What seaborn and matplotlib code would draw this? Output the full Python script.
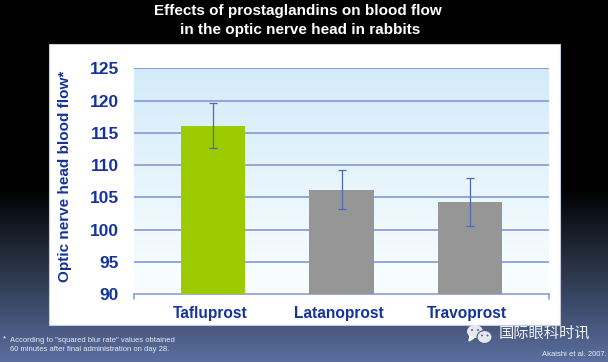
import numpy as np
import pandas as pd
import seaborn as sns
import matplotlib
matplotlib.use("Agg")
import matplotlib.pyplot as plt
from matplotlib.colors import LinearSegmentedColormap
from matplotlib.patches import Ellipse, Rectangle, Polygon
from matplotlib.transforms import ScaledTranslation

drugs = ["Tafluprost", "Latanoprost", "Travoprost"]
flow = [116.1, 106.1, 104.2]
err_low = [112.6, 103.2, 100.6]
err_high = [119.6, 109.2, 108.0]
yticks = [90, 95, 100, 105, 110, 115, 120, 125]

W, H = 608, 362
navy = "#14339b"
line = "#8ba0d8"

sns.set_theme()
sns.set_style("white")
plt.rcParams['font.family'] = ['Liberation Sans', 'Noto Sans CJK SC', 'DejaVu Sans']

fig = plt.figure(figsize=(W / 100, H / 100), dpi=100)


def px_axes(x0, y0, x1, y1, **kw):
  return fig.add_axes([x0 / W, 1 - y1 / H, (x1 - x0) / W, (y1 - y0) / H], **kw)


# Slide background, black fading to blue
bg = px_axes(0, 0, W, H)
bg_cmap = LinearSegmentedColormap.from_list(
  "slide", [(0, "#000000"), (0.52, "#000000"), (0.746, "#2b3549"), (1, "#5a6e9f")])
bg.imshow(np.linspace(0, 1, 256).reshape(-1, 1), aspect="auto", cmap=bg_cmap,
          extent=(0, W, H, 0))
bg.set_axis_off()
bg.add_patch(Rectangle((49, 44), 511, 281, facecolor="white", edgecolor="#c4cadc", lw=0.8))

# Chart
ax = px_axes(134, 68.3, 549, 294)
xlim = (-0.62, 2.62)
df = pd.DataFrame({"drug": drugs, "flow": flow})
sns.barplot(data=df, x="drug", y="flow", hue="drug", ax=ax, legend=False, width=0.5,
            palette=["#9bcb00", "#969696", "#969696"], saturation=1, linewidth=0, zorder=3)
plot_cmap = LinearSegmentedColormap.from_list("plot", ["#d3ebf9", "#fbfeff"])
ax.imshow(np.linspace(0, 1, 256).reshape(-1, 1), aspect="auto", cmap=plot_cmap,
          extent=(xlim[0], xlim[1], 90, 125), zorder=0)
ax.set_ylim(90, 125)
ax.set_xlim(*xlim)
for tick in yticks[1:-1]:
  ax.axhline(tick, color=line, lw=1.3, zorder=1)
ax.axhline(125, color="#6f88d2", lw=1.1, zorder=1)

yerr = [np.array(flow) - np.array(err_low), np.array(err_high) - np.array(flow)]
ax.errorbar(range(3), flow, yerr=yerr, fmt="none", ecolor="#5068b8", elinewidth=0.9,
            capsize=2.6, capthick=0.9, zorder=4)

ax.set_xlabel("")
ax.set_ylabel("")
ax.set_yticks(yticks)
ax.tick_params(axis="y", length=0, pad=11, labelsize=12.5, labelcolor=navy)
ax.tick_params(axis="x", length=0, pad=8.5, labelsize=11.2, labelcolor=navy)
for lab in ax.get_xticklabels() + ax.get_yticklabels():
  lab.set_fontweight("bold")
# x labels sit a little left of the bar centres
shift = ScaledTranslation(-3 / 100, 0, fig.dpi_scale_trans)
for lab in ax.get_xticklabels():
  lab.set_transform(lab.get_transform() + shift)
sns.despine(ax=ax, left=True, right=True, top=True)
ax.spines["bottom"].set_color(line)
ax.spines["bottom"].set_linewidth(1.2)
ax.patch.set_alpha(0)

# End ticks of the category axis
for x in xlim:
  ax.plot([x, x], [0, -0.02], color=line, lw=1.2, transform=ax.get_xaxis_transform(),
          clip_on=False, zorder=5)

# Slide text
fig.text(65 / W, 1 - 176 / H, "Optic nerve head blood flow*", rotation=90, color=navy,
         fontsize=11, fontweight="bold", ha="center", va="center")
fig.text(298 / W, 1 - 11 / H, "Effects of prostaglandins on blood flow", color="white",
         fontsize=11, fontweight="bold", ha="center", va="center")
fig.text(300 / W, 1 - 30 / H, "in the optic nerve head in rabbits", color="white",
         fontsize=11, fontweight="bold", ha="center", va="center")
fig.text(3 / W, 1 - 339 / H, "*", color="white", fontsize=5.5, va="center")
fig.text(10 / W, 1 - 340 / H, "According to \"squared blur rate\" values obtained", color="#e8ebf3",
         fontsize=5.5, va="center")
fig.text(10 / W, 1 - 349.5 / H, "60 minutes after final administration on day 28.", color="#e8ebf3",
         fontsize=5.5, va="center")
fig.text(606.5 / W, 1 - 354.5 / H, "Akaishi et al. 2007.", color="#e8ebf3", fontsize=5.5,
         ha="right", va="center")
fig.text(499 / W, 1 - 334 / H, "国际眼科时讯", color="#eef0f5", fontsize=11, va="center")

# WeChat mark
bg.add_patch(Ellipse((475, 331.5), 16, 13, facecolor="#e6e8ef", edgecolor="none", zorder=5))
bg.add_patch(Polygon([(470, 336), (474, 338), (469, 341)], facecolor="#e6e8ef", zorder=5))
bg.add_patch(Ellipse((484.5, 337), 15, 13, facecolor="#e6e8ef", edgecolor="#4b5c8a", lw=0.8, zorder=6))
for x, y, c in [(472, 330, "#5a6a92"), (478, 330, "#5a6a92"), (482, 335.5, "#5a6a92"), (487.5, 335.5, "#5a6a92")]:
  bg.add_patch(Ellipse((x, y), 2, 2, facecolor=c, edgecolor="none", zorder=7))
bg.set_xlim(0, W)
bg.set_ylim(H, 0)

fig.savefig("out.png", dpi=100)
